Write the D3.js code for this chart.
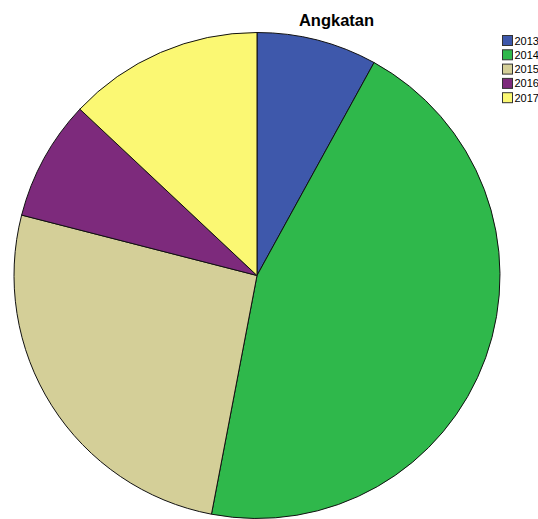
<!DOCTYPE html>
<html>
<head>
<meta charset="utf-8">
<script src="https://cdn.jsdelivr.net/npm/d3@7/dist/d3.min.js"></script>
<style>
  html, body { margin: 0; padding: 0; background: #fff; overflow: hidden; }
  svg { display: block; }
</style>
</head>
<body>
<svg id="chart" width="538" height="519"></svg>
<script>
// Student counts per cohort year (Angkatan)
const categories = ["2013", "2014", "2015", "2016", "2017"];
const values = [8, 45, 26, 8, 13];
const colors = ["#3e58ab", "#2fb84b", "#d4cf98", "#7d2a7c", "#fbf873"];
const title = "Angkatan";

const svg = d3.select("#chart");
const cx = 257, cy = 275.5, r = 243;

const color = d3.scaleOrdinal().domain(categories).range(colors);

const data = categories.map((c, i) => ({ cat: c, value: values[i] }));

const pie = d3.pie()
  .value(d => d.value)
  .sort(null)
  .startAngle(0)
  .endAngle(2 * Math.PI);

const arc = d3.arc().innerRadius(0).outerRadius(r);

svg.append("g")
  .attr("transform", `translate(${cx},${cy})`)
  .selectAll("path")
  .data(pie(data))
  .join("path")
  .attr("d", arc)
  .attr("fill", d => color(d.data.cat))
  .attr("stroke", "#111")
  .attr("stroke-width", 1)
  .attr("stroke-linejoin", "round");

// Title
svg.append("text")
  .attr("x", 336.5)
  .attr("y", 26)
  .attr("text-anchor", "middle")
  .attr("font-family", "'Liberation Sans', Arial, sans-serif")
  .attr("font-weight", "bold")
  .attr("font-size", 16.5)
  .attr("fill", "#000")
  .text(title);

// Legend
const legend = svg.append("g").attr("transform", "translate(502,35)");
const rowH = 14.3;
const items = legend.selectAll("g")
  .data(categories)
  .join("g")
  .attr("transform", (d, i) => `translate(0,${i * rowH})`);

items.append("rect")
  .attr("x", 0.5)
  .attr("y", 0.5)
  .attr("width", 10)
  .attr("height", 10)
  .attr("fill", d => color(d))
  .attr("stroke", "#333")
  .attr("stroke-width", 1);

items.append("text")
  .attr("x", 12.5)
  .attr("y", 9.5)
  .attr("font-family", "'Liberation Sans', Arial, sans-serif")
  .attr("font-size", 11)
  .attr("fill", "#000")
  .text(d => d);
</script>
</body>
</html>
